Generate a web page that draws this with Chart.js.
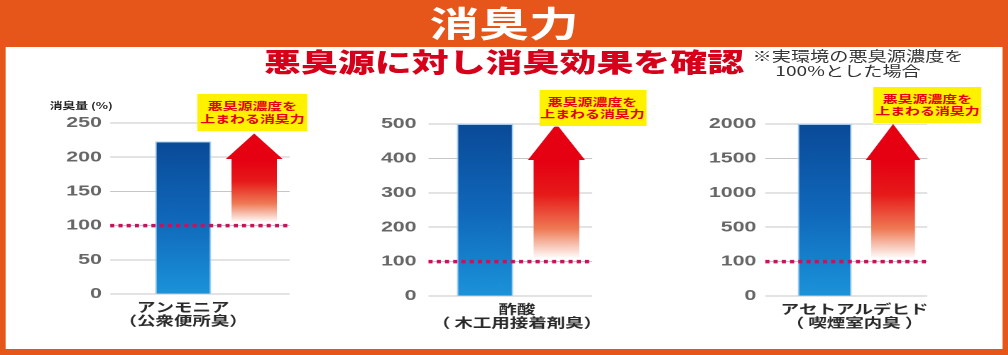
<!DOCTYPE html>
<html><head><meta charset="utf-8">
<script src="https://cdn.jsdelivr.net/npm/chart.js@4.4.1/dist/chart.umd.min.js"></script>
<style>
html,body{margin:0;padding:0;width:1008px;height:355px;overflow:hidden;background:#E65519;}
#stage{position:absolute;left:0;top:0;width:710px;height:355px;transform:scaleX(1.42);transform-origin:0 0;font-family:"Noto Sans CJK JP","Noto Sans",sans-serif;}
#panel{position:absolute;left:3.5px;top:47px;width:702.8px;height:302px;background:#fff;}
.abs{position:absolute;white-space:nowrap;}
#title{left:0;width:710px;top:0;height:44px;line-height:44px;text-align:center;color:#fff;font-size:35px;font-weight:700;}
#sub{left:0;width:710px;top:46px;line-height:30px;text-align:center;color:#D7001A;font-size:26px;font-weight:900;}
#note{left:530px;top:48px;font-size:13.5px;line-height:15px;color:#333;}
#note span{display:block;}
#note span+span{padding-left:16px;}
#ytitle{font-size:9px;font-weight:700;color:#222;line-height:10px;}
.callout{position:absolute;background:#FFF200;color:#E50012;font-size:10.5px;font-weight:700;line-height:12.5px;text-align:center;display:flex;flex-direction:column;justify-content:center;white-space:nowrap;}
canvas{position:absolute;}
</style></head>
<body>
<div id="stage">
  <div id="panel"></div>
  <div id="title" class="abs"></div>
  <div id="sub" class="abs"></div>
  <div id="note" class="abs"></div>
  <div id="ytitle" class="abs"></div>
</div>
<script>
// ---- data ----
const headerTitle = '消臭力';
const subTitle = '悪臭源に対し消臭効果を確認';
const noteLines = ['※実環境の悪臭源濃度を', '100%とした場合'];
const yAxisTitle = '消臭量 (%)';
const calloutLines = ['悪臭源濃度を', '上まわる消臭力'];
const categories = [
  ['アンモニア', '（公衆便所臭）'],
  ['酢酸', '（ 木工用接着剤臭）'],
  ['アセトアルデヒド', '（ 喫煙室内臭 ）']
];
const deodorizeValues = [223, 500, 2000];
const referenceValues = [100, 100, 100];
const tickValues1 = [0, 50, 100, 150, 200, 250];
const tickValues2 = [0, 100, 200, 300, 400, 500];
const tickValues3 = [0, 100, 500, 1000, 1500, 2000];
const tickLabels1 = ['0', '50', '100', '150', '200', '250'];
const tickLabels2 = ['0', '100', '200', '300', '400', '500'];
const tickLabels3 = ['0', '100', '500', '1000', '1500', '2000'];
const tickValues = [tickValues1, tickValues2, tickValues3];
const tickLabels = [tickLabels1, tickLabels2, tickLabels3];

// ---- layout (design coordinates, stage is stretched horizontally) ----
const layout = [
  {left: 19.9, top: 100, w: 184, h: 239, yW: 84, padTop: 23, xH: 45, tickLen: 26.4, tickPad: 5.9, labelOffset: 0,
   callout: {x: 139.4, y: 94, w: 76.8, h: 37}},
  {left: 229.65, top: 100, w: 187, h: 241, yW: 86.4, padTop: 24, xH: 45, tickLen: 14.65, tickPad: 8.4, labelOffset: 22.5,
   callout: {x: 379.6, y: 90, w: 75.3, h: 36}},
  {left: 470.75, top: 100, w: 182, h: 241, yW: 85.7, padTop: 24, xH: 45, tickLen: 17.75, tickPad: 6.3, labelOffset: 21,
   callout: {x: 614.8, y: 87, w: 76.7, h: 36}}
];

document.getElementById('title').textContent = headerTitle;
document.getElementById('sub').textContent = subTitle;
const noteEl = document.getElementById('note');
noteLines.forEach(t => { const s = document.createElement('span'); s.textContent = t; noteEl.appendChild(s); });
const yt = document.getElementById('ytitle');
yt.textContent = yAxisTitle; yt.style.left = '35px'; yt.style.top = '101px';

// ---- custom stepped scale: equal spacing between listed stops ----
class StepScale extends Chart.LinearScale {
  determineDataLimits() {
    const s = this.options.stops;
    this.min = s[0]; this.max = s[s.length - 1];
  }
  buildTicks() {
    const s = this.options.stops; const out = [];
    for (let i = 0; i < s.length; i++) out.push({value: s[i]});
    return out;
  }
  _idx(value) {
    const s = this.options.stops; const n = s.length - 1;
    if (value <= s[0]) return 0;
    if (value >= s[n]) return n + (value - s[n]) / (s[n] - s[n - 1]);
    for (let i = 0; i < n; i++) {
      if (value <= s[i + 1]) return i + (value - s[i]) / (s[i + 1] - s[i]);
    }
    return n;
  }
  getPixelForValue(value) {
    const n = this.options.stops.length - 1;
    return this.getPixelForDecimal(this._idx(value) / n);
  }
  getValueForPixel(pixel) {
    const s = this.options.stops; const n = s.length - 1;
    const d = this.getDecimalForPixel(pixel) * n;
    const i = Math.max(0, Math.min(n - 1, Math.floor(d)));
    return s[i] + (d - i) * (s[i + 1] - s[i]);
  }
}
StepScale.id = 'step';
StepScale.defaults = Chart.LinearScale.defaults;
Chart.register(StepScale);

const arrowRefPlugin = {
  id: 'arrowRef',
  afterDatasetsDraw(chart, args, opts) {
    const {ctx, chartArea, scales: {x, y}} = chart;
    const i = opts.panel;
    const L = layout[i];
    const catW = x.getPixelForValue(1) - x.getPixelForValue(0);
    const cx = x.getPixelForValue(1);
    const refY = y.getPixelForValue(referenceValues[i]);
    const tipY = Math.max(y.getPixelForValue(deodorizeValues[i]) - 8, chartArea.top);
    const headY = chartArea.top + 36;
    const bottomY = refY - 3;
    const hw = catW * 0.4, sw = catW * 0.32;
    const g = ctx.createLinearGradient(0, tipY, 0, bottomY);
    const tot = bottomY - tipY;
    const hf = (headY - tipY) / tot;
    g.addColorStop(0, '#E50012');
    g.addColorStop(hf, '#E50012');
    g.addColorStop(hf + (1 - hf) * 0.35, '#E61A1A');
    g.addColorStop(hf + (1 - hf) * 0.7, '#EF7A55');
    g.addColorStop(1, 'rgba(255,255,255,1)');
    ctx.save();
    ctx.fillStyle = g;
    ctx.beginPath();
    ctx.moveTo(cx, tipY);
    ctx.lineTo(cx + hw, headY);
    ctx.lineTo(cx + sw, headY);
    ctx.lineTo(cx + sw, bottomY);
    ctx.lineTo(cx - sw, bottomY);
    ctx.lineTo(cx - sw, headY);
    ctx.lineTo(cx - hw, headY);
    ctx.closePath();
    ctx.fill();
    // reference (100%) dotted line
    ctx.setLineDash([2.9, 2.9]);
    ctx.lineWidth = 3.5;
    ctx.strokeStyle = '#C4145C';
    ctx.beginPath();
    ctx.moveTo(chartArea.left - L.tickLen, refY);
    ctx.lineTo(chartArea.right, refY);
    ctx.stroke();
    ctx.restore();
  }
};

const stage = document.getElementById('stage');
layout.forEach((L, i) => {
  const cv = document.createElement('canvas');
  cv.style.left = L.left + 'px'; cv.style.top = L.top + 'px';
  cv.style.width = L.w + 'px'; cv.style.height = L.h + 'px';
  cv.width = L.w; cv.height = L.h;
  stage.appendChild(cv);

  const c = document.createElement('div');
  c.className = 'callout';
  c.style.left = L.callout.x + 'px'; c.style.top = L.callout.y + 'px';
  c.style.width = L.callout.w + 'px'; c.style.height = L.callout.h + 'px';
  calloutLines.forEach(t => { const s = document.createElement('div'); s.textContent = t; c.appendChild(s); });
  stage.appendChild(c);

  new Chart(cv, {
    type: 'bar',
    data: {
      labels: [categories[i], ''],
      datasets: [{
        data: [deodorizeValues[i], null],
        backgroundColor: (ctx) => {
          const ch = ctx.chart; const ys = ch.scales.y;
          if (!ch.chartArea || !ys || ctx.parsed == null || ctx.parsed.y == null) return '#0A5BAA';
          const top = ys.getPixelForValue(ctx.parsed.y);
          const bot = ys.getPixelForValue(0);
          const g = ch.ctx.createLinearGradient(0, top, 0, bot);
          g.addColorStop(0, '#0A4A98');
          g.addColorStop(0.5, '#1067BA');
          g.addColorStop(1, '#1B93DA');
          return g;
        },
        borderColor: 'rgba(150,200,240,0.9)',
        borderWidth: 1,
        barPercentage: 0.79,
        categoryPercentage: 1
      }]
    },
    options: {
      responsive: false,
      animation: false,
      devicePixelRatio: 2,
      layout: {padding: {top: L.padTop, left: 0, right: 0, bottom: 0}},
      plugins: {legend: {display: false}, tooltip: {enabled: false}, arrowRef: {panel: i}},
      scales: {
        x: {
          type: 'category',
          offset: true,
          grid: {display: false, drawTicks: false},
          border: {display: false},
          ticks: {
            maxRotation: 0, minRotation: 0, autoSkip: false,
            padding: 6, labelOffset: L.labelOffset,
            color: '#2a2a2a',
            font: {family: '"Noto Sans CJK JP"', weight: 'bold', size: 13, lineHeight: 1.05}
          },
          afterFit: (s) => { s.height = L.xH; }
        },
        y: {
          type: 'step',
          stops: tickValues[i],
          grid: {color: '#C6C6C6', lineWidth: 1, drawTicks: true, tickLength: L.tickLen, tickColor: '#C6C6C6'},
          border: {display: false},
          ticks: {
            padding: L.tickPad,
            color: '#666',
            font: {family: '"Liberation Sans"', weight: 'bold', size: 15},
            callback: (v, idx) => tickLabels[i][idx]
          },
          afterFit: (s) => { s.width = L.yW; }
        }
      }
    },
    plugins: [arrowRefPlugin]
  });
});
</script>
</body></html>
